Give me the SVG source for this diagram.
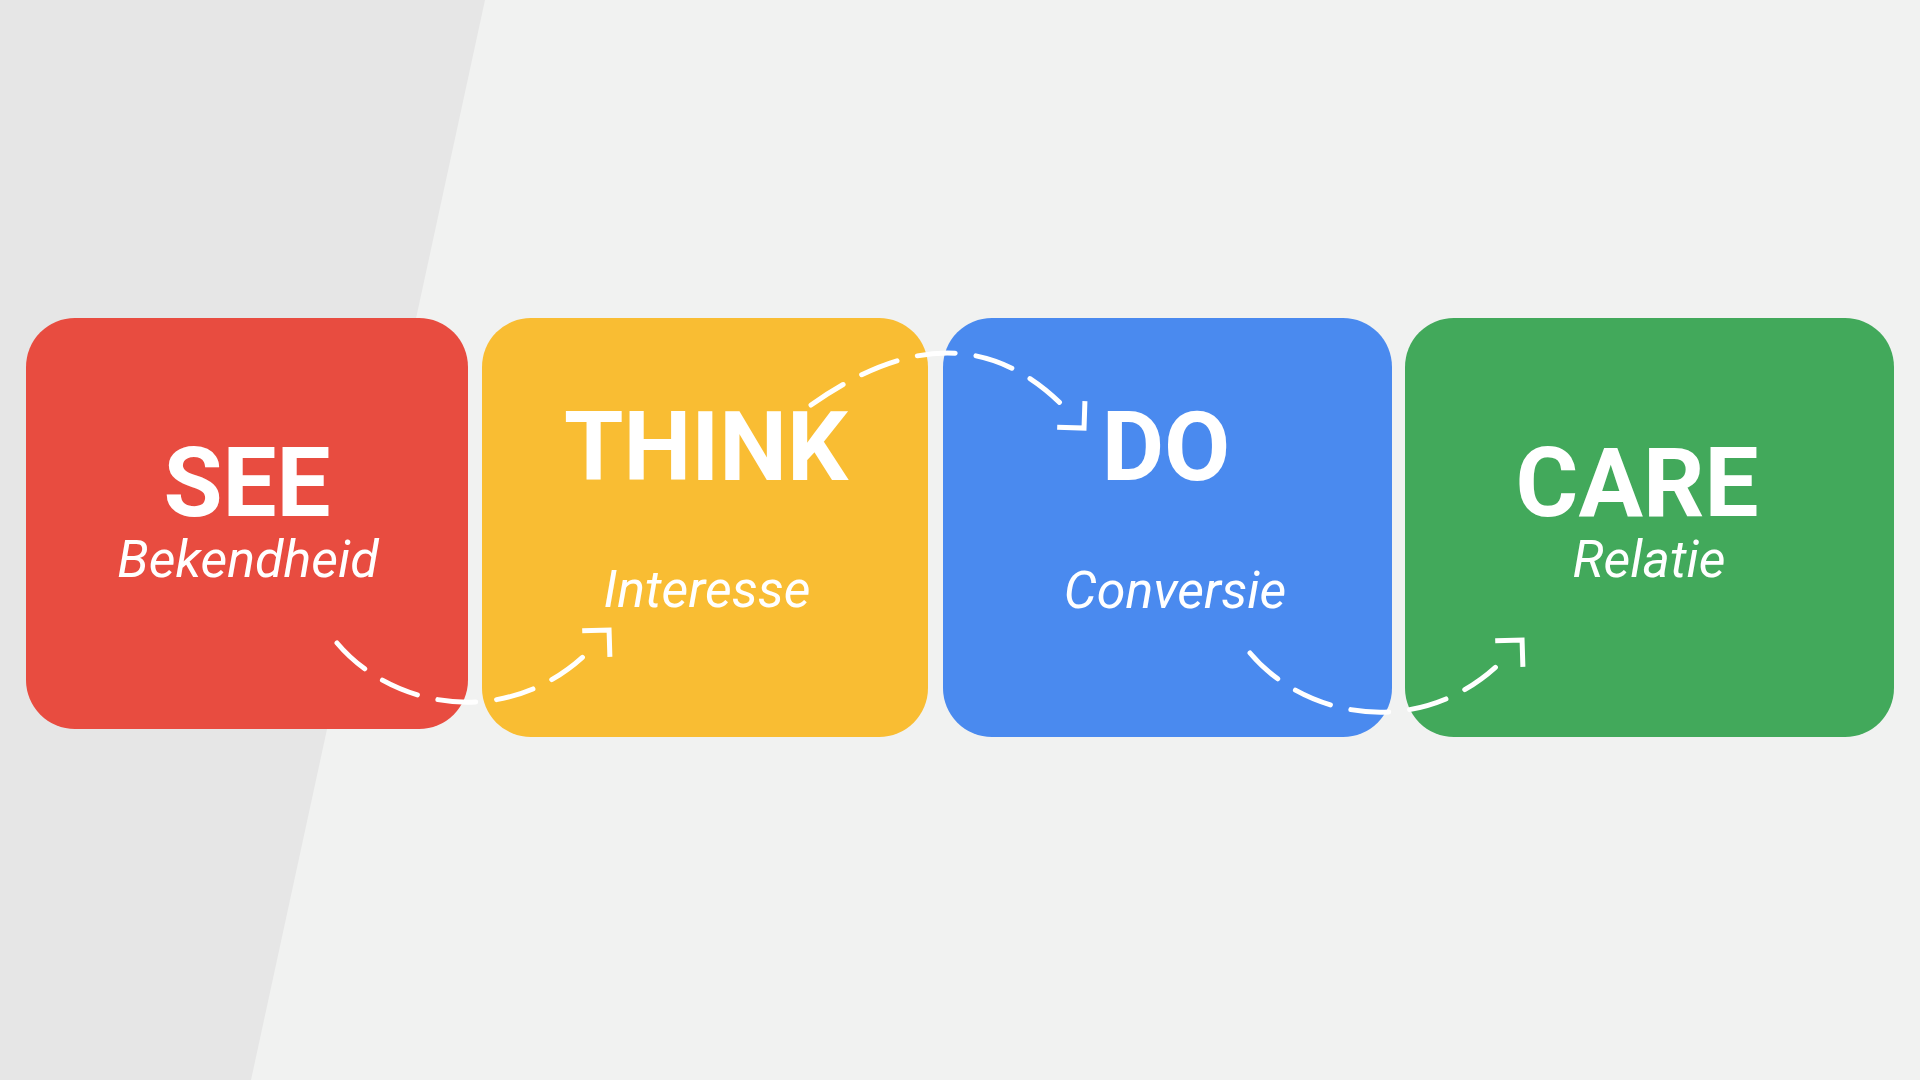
<svg xmlns="http://www.w3.org/2000/svg" width="1920" height="1080" viewBox="0 0 1920 1080">
<defs>
<style>
.title{font-family:Roboto,"Liberation Sans",sans-serif;font-weight:700;font-size:96px;fill:#fff;text-anchor:middle}
.sub{font-family:Roboto,"Liberation Sans",sans-serif;font-style:italic;font-weight:400;font-size:52px;fill:#fff;text-anchor:middle}
.conn{fill:none;stroke:#fff;stroke-width:5;stroke-linecap:round;stroke-dasharray:38 21;marker-end:url(#chev)}
</style>
<marker id="chev" markerUnits="userSpaceOnUse" viewBox="-10 -30 40 60" refX="0" refY="0" markerWidth="40" markerHeight="60" orient="auto" overflow="visible">
<path d="M3,-19 L22,0 L3,19" fill="none" stroke="#fff" stroke-width="5" stroke-linejoin="miter" stroke-linecap="butt"/>
</marker>
</defs>
<rect x="0" y="0" width="1920" height="1080" fill="#F1F2F1"/>
<polygon points="0,0 485,0 251,1080 0,1080" fill="#E6E6E6"/>
<g id="see">
<rect x="26" y="318" width="442" height="411" rx="49" ry="49" fill="#E84C40"/>
<text class="title" x="247" y="516">SEE</text>
<text class="sub" x="248" y="577">Bekendheid</text>
</g>
<g id="think">
<rect x="482" y="318" width="446" height="419" rx="49" ry="49" fill="#F9BD33"/>
<text class="title" x="706" y="480">THINK</text>
<text class="sub" x="707" y="607">Interesse</text>
</g>
<g id="do">
<rect x="943" y="318" width="449" height="419" rx="49" ry="49" fill="#4A8AEF"/>
<text class="title" x="1166" y="480">DO</text>
<text class="sub" x="1175" y="608">Conversie</text>
</g>
<g id="care">
<rect x="1405" y="318" width="489" height="419" rx="49" ry="49" fill="#42A95B"/>
<text class="title" x="1637" y="516">CARE</text>
<text class="sub" x="1649" y="577">Relatie</text>
</g>
<g id="connectors">
<path class="conn" d="M337,643 C395,712 515,730 594,646"/>
<path class="conn" d="M811,405 C909,336 995,333 1069,412"/>
<path class="conn" d="M1250,653 C1308,722 1428,740 1507,656"/>
</g>
</svg>
